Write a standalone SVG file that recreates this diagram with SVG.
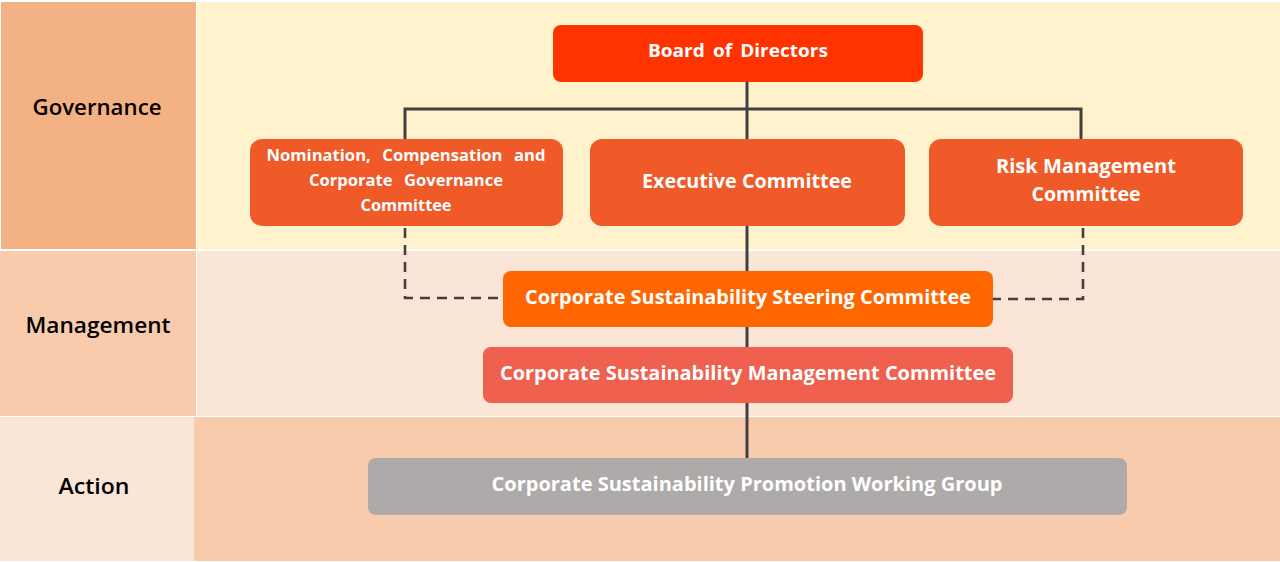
<svg xmlns="http://www.w3.org/2000/svg" width="1280" height="562" viewBox="0 0 1280 562">
<style>
.lbl{font-family:"Open Sans","Noto Sans","Liberation Sans",sans-serif;font-size:22px;font-weight:600;fill:#000;text-anchor:middle;dominant-baseline:central}
.nt{font-family:"Open Sans","Noto Sans","Liberation Sans",sans-serif;font-weight:700;fill:#fff;text-anchor:middle;dominant-baseline:central}
.solid{stroke:#404040;stroke-width:3;fill:none}
.dash{stroke:#404040;stroke-width:2.6;fill:none;stroke-dasharray:10 7}
</style>
<rect x="0" y="0" width="1280" height="562" fill="#ffffff"/>
<g id="rows">
<rect x="1" y="2" width="195" height="247" fill="#F4B183"/>
<rect x="197" y="2" width="1083" height="247" fill="#FFF2CC"/>
<rect x="0" y="251" width="196" height="165" fill="#F8CBAD"/>
<rect x="197" y="251" width="1083" height="165" fill="#FBE5D6"/>
<rect x="0" y="417" width="194" height="144" fill="#FBE5D6"/>
<rect x="194" y="417" width="1086" height="144" fill="#F8CBAD"/>
<text class="lbl" x="97" y="106" textLength="129" lengthAdjust="spacingAndGlyphs">Governance</text>
<text class="lbl" x="98" y="324" textLength="145" lengthAdjust="spacingAndGlyphs">Management</text>
<text class="lbl" x="94" y="485" textLength="71" lengthAdjust="spacingAndGlyphs">Action</text>
</g>
<g id="connectors">
<path class="solid" d="M747 82 V458"/>
<path class="solid" d="M405 139 V109 H1081 V139"/>
<path class="dash" d="M405 228 V298 H503"/>
<path class="dash" d="M1083 228 V299 H993"/>
</g>
<g id="board">
<rect x="553" y="25" width="370" height="57" rx="8" fill="#FF3300"/>
<text class="nt" x="738" y="50" font-size="18" word-spacing="3" textLength="180" lengthAdjust="spacingAndGlyphs">Board of Directors</text>
</g>
<g id="nomination">
<rect x="250" y="139" width="313" height="87" rx="12" fill="#F05A28"/>
<text class="nt" x="406" y="155" font-size="16" word-spacing="7" textLength="279" lengthAdjust="spacingAndGlyphs">Nomination, Compensation and</text>
<text class="nt" x="406" y="180" font-size="16" word-spacing="7" textLength="194" lengthAdjust="spacingAndGlyphs">Corporate Governance</text>
<text class="nt" x="406" y="205" font-size="16" textLength="91" lengthAdjust="spacingAndGlyphs">Committee</text>
</g>
<g id="executive">
<rect x="590" y="139" width="315" height="87" rx="12" fill="#F05A28"/>
<text class="nt" x="747" y="181" font-size="19" textLength="210" lengthAdjust="spacingAndGlyphs">Executive Committee</text>
</g>
<g id="risk">
<rect x="929" y="139" width="314" height="87" rx="12" fill="#F05A28"/>
<text class="nt" x="1086" y="166" font-size="19" textLength="180" lengthAdjust="spacingAndGlyphs">Risk Management</text>
<text class="nt" x="1086" y="194" font-size="19" textLength="109" lengthAdjust="spacingAndGlyphs">Committee</text>
</g>
<g id="steering">
<rect x="503" y="271" width="490" height="56" rx="8" fill="#FF6600"/>
<text class="nt" x="748" y="297" font-size="19" textLength="446" lengthAdjust="spacingAndGlyphs">Corporate Sustainability Steering Committee</text>
</g>
<g id="mgmt">
<rect x="483" y="347" width="530" height="56" rx="8" fill="#EF604E"/>
<text class="nt" x="748" y="373" font-size="19" textLength="496" lengthAdjust="spacingAndGlyphs">Corporate Sustainability Management Committee</text>
</g>
<g id="working">
<rect x="368" y="458" width="759" height="57" rx="8" fill="#AEAAAA"/>
<text class="nt" x="747" y="484" font-size="19" textLength="511" lengthAdjust="spacingAndGlyphs">Corporate Sustainability Promotion Working Group</text>
</g>
</svg>
